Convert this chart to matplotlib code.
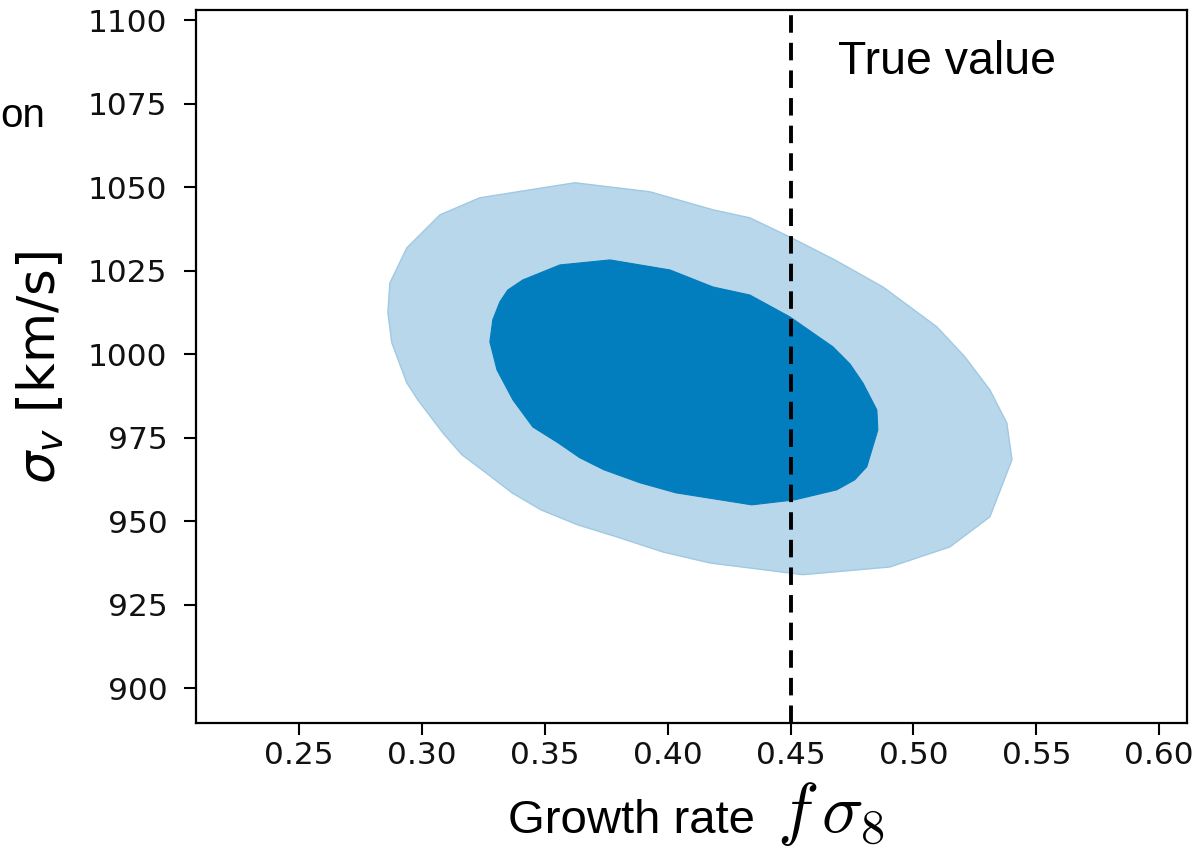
import matplotlib
matplotlib.use("Agg")
import matplotlib.pyplot as plt

# 95% (outer) contour vertices: (fsigma8, sigma_v)
outer_x = [0.3622, 0.3927, 0.4184, 0.4334, 0.4496, 0.4680, 0.4876, 0.5095, 0.5209,
           0.5311, 0.5380, 0.5401, 0.5311, 0.5148, 0.4904, 0.4550, 0.4172, 0.3980,
           0.3793, 0.3634, 0.3484, 0.3366, 0.3260, 0.3162, 0.3085, 0.2983, 0.2938,
           0.2877, 0.2861, 0.2869, 0.2938, 0.3073, 0.3235]
outer_y = [1051.3, 1048.6, 1043.2, 1040.8, 1035.1, 1028.2, 1020.1, 1008.2, 999.2,
           989.3, 979.4, 968.4, 951.3, 942.3, 936.3, 934.0, 937.5, 940.8,
           945.3, 948.9, 953.4, 958.5, 964.5, 969.9, 976.4, 986.3, 991.4,
           1003.4, 1012.4, 1021.3, 1031.8, 1041.7, 1046.8]

# 68% (inner) contour vertices
inner_x = [0.3765, 0.4009, 0.4184, 0.4334, 0.4496, 0.4672, 0.4741, 0.4794, 0.4851,
           0.4855, 0.4810, 0.4761, 0.4688, 0.4517, 0.4342, 0.4033, 0.3887, 0.3740,
           0.3642, 0.3553, 0.3451, 0.3370, 0.3305, 0.3276, 0.3288, 0.3317, 0.3349,
           0.3410, 0.3561]
inner_y = [1028.2, 1025.2, 1020.1, 1017.7, 1011.2, 1002.2, 997.1, 991.4, 983.3,
           977.3, 966.3, 962.4, 959.4, 956.4, 954.9, 958.5, 961.5, 965.4,
           969.0, 973.5, 978.2, 986.3, 995.3, 1003.7, 1010.3, 1015.7, 1019.2,
           1022.2, 1026.7]

true_value = 0.45
xticks = [0.25, 0.30, 0.35, 0.40, 0.45, 0.50, 0.55, 0.60]
yticks = [900, 925, 950, 975, 1000, 1025, 1050, 1075, 1100]

W, H = 1196, 847
fig = plt.figure(figsize=(W / 100, H / 100), dpi=100)
ax = fig.add_axes([196 / W, 1 - 722.7 / H, (1186.7 - 196) / W, (722.7 - 10) / H])

ax.fill(outer_x, outer_y, facecolor="#b9d7ea", edgecolor="#9fc9e3", linewidth=1.0,
        joinstyle="round", zorder=1)
ax.fill(inner_x, inner_y, facecolor="#027dbe", edgecolor="#027dbe", linewidth=0.8,
        joinstyle="round", zorder=2)
ax.axvline(true_value, color="black", linewidth=2.8, linestyle=(0, (4.5, 2.6)), zorder=3)

ax.set_xlim(0.2080, 0.6112)
ax.set_ylim(889.7, 1103.0)
ax.set_xticks(xticks)
ax.set_xticklabels([f"{v:.2f}" for v in xticks])
ax.set_yticks(yticks)
ax.set_yticklabels([str(v) for v in yticks])

for s in ax.spines.values():
    s.set_linewidth(1.6)
ax.tick_params(axis="both", length=8.5, width=1.5, labelsize=22.5, labelcolor="#111111")
ax.tick_params(axis="x", pad=5)
ax.tick_params(axis="y", pad=12)
for lab in ax.get_xticklabels() + ax.get_yticklabels():
    lab.set_fontfamily("DejaVu Sans")

# "True value" annotation
fig.text(838 / W, 1 - 74 / H, "True value", fontsize=33.5, family="Liberation Sans",
         ha="left", va="baseline")

# x label: text part + math part
fig.text(508 / W, 1 - 833 / H, "Growth rate", fontsize=34, family="Liberation Sans",
         ha="left", va="baseline")
fig.text(777 / W, 1 - 832 / H, r"$f\,\sigma_8$", fontsize=50, math_fontfamily="cm",
         ha="left", va="baseline")

# y label
fig.text(41 / W, 1 - 367 / H, r"$\sigma_v$ [km/s]", fontsize=37, family="DejaVu Sans",
         math_fontfamily="dejavusans", rotation=90, ha="center", va="center")

# text fragment from neighbouring panel at the left edge
fig.text(0.5 / W, 1 - 127 / H, "on", fontsize=29, family="Liberation Sans",
         ha="left", va="baseline")

fig.savefig("out.png", dpi=100)
